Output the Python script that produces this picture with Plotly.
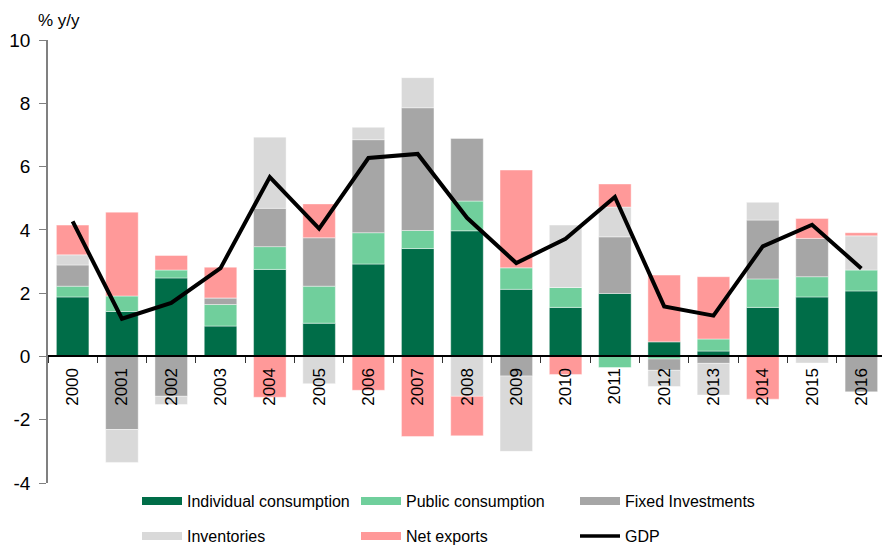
import plotly.graph_objects as go

years = [str(y) for y in range(2000, 2017)]
individual = [1.88, 1.42, 2.48, 0.96, 2.75, 1.05, 2.92, 3.41, 3.97, 2.12, 1.55, 1.99, 0.46, 0.17, 1.55, 1.88, 2.07]
public = [0.34, 0.49, 0.25, 0.68, 0.72, 1.17, 0.99, 0.57, 0.94, 0.68, 0.63, -0.35, -0.08, 0.38, 0.90, 0.64, 0.66]
fixed_inv = [0.67, -2.31, -1.26, 0.21, 1.21, 1.53, 2.94, 3.88, 1.98, -0.62, 0.0, 1.79, -0.36, -0.22, 1.86, 1.21, -1.12]
inventories = [0.32, -1.04, -0.26, 0.0, 2.25, -0.86, 0.39, 0.95, -1.26, -2.38, 1.97, 0.94, -0.51, -1.00, 0.56, -0.21, 1.08]
net_exports = [0.94, 2.65, 0.46, 0.97, -1.29, 1.07, -1.07, -2.53, -1.25, 3.09, -0.57, 0.73, 2.11, 1.97, -1.35, 0.63, 0.10]
gdp = [4.27, 1.19, 1.69, 2.79, 5.67, 4.04, 6.27, 6.40, 4.38, 2.95, 3.72, 5.04, 1.58, 1.29, 3.48, 4.16, 2.78]

y_tickvals = [-4, -2, 0, 2, 4, 6, 8, 10]
y_ticktext = ["-4", "-2", "0", "2", "4", "6", "8", "10"]

series = [
    ("Individual consumption", individual, "#006D48", "legend"),
    ("Public consumption", public, "#70CF9C", "legend"),
    ("Fixed Investments", fixed_inv, "#A6A6A6", "legend"),
    ("Inventories", inventories, "#D9D9D9", "legend2"),
    ("Net exports", net_exports, "#FF9999", "legend2"),
]

W, H = 882, 542  # page body adds an 8px offset
FONT = "Arial, Liberation Sans, sans-serif"
fig = go.Figure()
for name, vals, col, lg in series:
    fig.add_trace(go.Bar(x=years, y=vals, name=name, marker_color=col,
                         marker_line=dict(color="rgba(255,255,255,0.6)", width=0.7),
                         showlegend=False))

fig.add_trace(go.Scatter(x=years, y=gdp, mode="lines", name="GDP",
                         line=dict(color="black", width=4), showlegend=False))

# legend entries (wide swatches)
for name, vals, col, lg in series:
    fig.add_trace(go.Scatter(x=[None], y=[None], mode="lines", name=name,
                             line=dict(color=col, width=8), legend=lg))
fig.add_trace(go.Scatter(x=[None], y=[None], mode="lines", name="GDP",
                         line=dict(color="black", width=3.5), legend="legend2"))

leg_common = dict(orientation="h", xanchor="left", yanchor="middle",
                  xref="container", yref="container",
                  font=dict(family=FONT, size=16, color="black"),
                  itemwidth=40, entrywidth=164, entrywidthmode="pixels",
                  bgcolor="rgba(0,0,0,0)", itemclick=False, itemdoubleclick=False)

fig.update_layout(
    width=W, height=H,
    margin=dict(l=40, r=4, t=32, b=67, autoexpand=False),
    plot_bgcolor="white", paper_bgcolor="white",
    barmode="relative", bargap=0.34,
    font=dict(family=FONT, color="black"),
    legend=dict(x=129 / W, y=1 - 493 / H, **leg_common),
    legend2=dict(x=129 / W, y=1 - 528 / H, **leg_common),
    xaxis=dict(type="category", range=[-0.5, 16.5], anchor="free", position=4/14,
               automargin=False,
               showline=True, linecolor="black", linewidth=1.5,
               ticks="outside", tickson="boundaries", ticklen=6, tickcolor="#333333",
               tickangle=-90, tickfont=dict(family=FONT, size=17, color="black"),
               ticklabelstandoff=4, showgrid=False),
    yaxis=dict(range=[-4, 10], tickvals=y_tickvals, ticktext=y_ticktext, automargin=False,
               showline=True, linecolor="#808080", linewidth=1.5,
               ticks="outside", ticklen=7, tickcolor="#808080",
               tickfont=dict(family=FONT, size=19, color="black"),
               ticklabelstandoff=5,
               showgrid=False, zeroline=False),
    annotations=[dict(text="% y/y", xref="paper", yref="paper", x=-12 / 838, y=1 + 20 / 443,
                      xanchor="left", yanchor="middle", showarrow=False,
                      font=dict(family=FONT, size=17, color="black"))],
)

fig.write_html("out.html")
